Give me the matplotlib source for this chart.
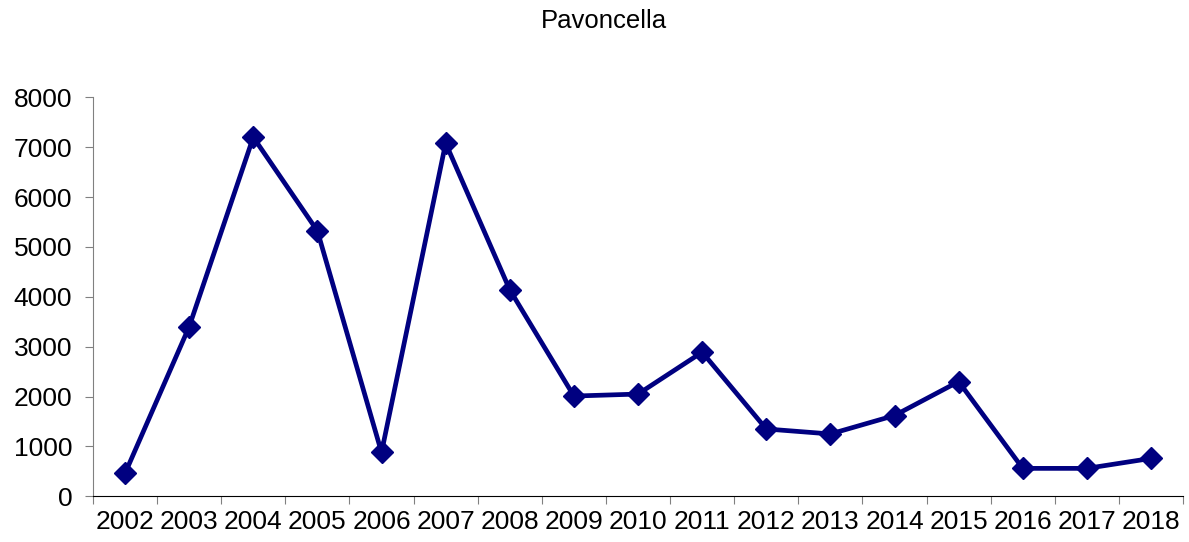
import matplotlib
matplotlib.use('Agg')
import matplotlib.pyplot as plt
import numpy as np

years = ["2002", "2003", "2004", "2005", "2006", "2007", "2008", "2009", "2010",
         "2011", "2012", "2013", "2014", "2015", "2016", "2017", "2018"]
counts = [460, 3400, 7200, 5320, 880, 7080, 4140, 2010, 2050,
          2890, 1350, 1250, 1620, 2300, 560, 560, 760]
y_ticks = [0, 1000, 2000, 3000, 4000, 5000, 6000, 7000, 8000]

plt.rcParams['font.family'] = ['Liberation Sans', 'DejaVu Sans']

fig = plt.figure(figsize=(11.89, 5.42), dpi=100)
ax = fig.add_axes([0.0782, 0.0843, 0.9168, 0.7362])

x = np.arange(len(years))
ax.plot(x, counts, color="#000080", lw=3.4, marker="D", markersize=11, zorder=3)

ax.set_xlim(-0.5, len(years) - 0.5)
ax.set_ylim(0, 8000)
ax.set_yticks(y_ticks)
ax.set_yticklabels([str(v) for v in y_ticks])
ax.set_xticks(np.arange(-0.5, len(years)), minor=False)
ax.set_xticklabels([])
ax.set_xticks(x, minor=True)
ax.set_xticklabels(years, minor=True)
ax.tick_params(axis="x", which="minor", length=0, pad=10, labelsize=19)
ax.tick_params(axis="x", which="major", length=6, color="#808080")
ax.tick_params(axis="y", length=6, color="#808080", labelsize=19, pad=9)

for side in ["top", "right"]:
    ax.spines[side].set_visible(False)
ax.spines["left"].set_color("#808080")
ax.spines["bottom"].set_color("#000000")

fig.text(0.508, 0.962, "Pavoncella", ha="center", va="center", fontsize=18.5)

fig.savefig("out.png", dpi=100)
